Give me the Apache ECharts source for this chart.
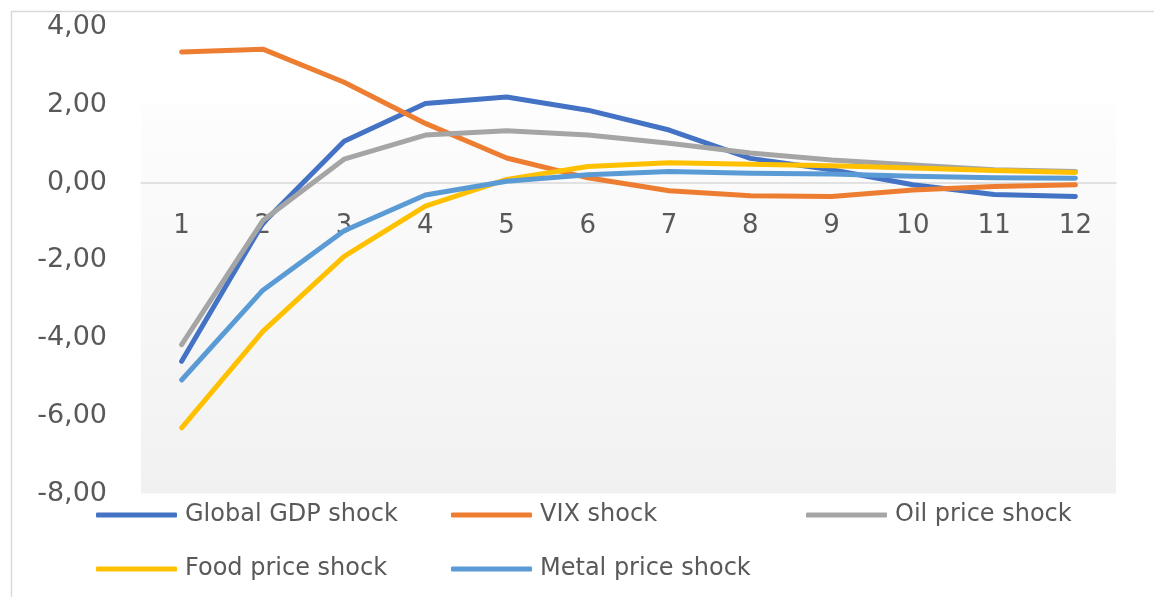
<!DOCTYPE html>
<html>
<head>
<meta charset="utf-8">
<script src="https://cdn.jsdelivr.net/npm/echarts@6/dist/echarts.min.js"></script>
<style>
  html, body { margin: 0; padding: 0; background: #ffffff; }
  #chart { width: 1154px; height: 597px; }
</style>
</head>
<body>
<div id="chart"></div>
<script>
// Impulse responses over a 12-period horizon
const periods = ['1', '2', '3', '4', '5', '6', '7', '8', '9', '10', '11', '12'];

const globalGdpShock = [-4.60, -1.05, 1.06, 2.03, 2.20, 1.86, 1.35, 0.62, 0.33, -0.06, -0.31, -0.36];
const vixShock       = [3.36, 3.43, 2.58, 1.52, 0.63, 0.12, -0.21, -0.34, -0.36, -0.19, -0.10, -0.06];
const oilPriceShock  = [-4.17, -0.98, 0.60, 1.22, 1.33, 1.22, 1.01, 0.76, 0.58, 0.45, 0.33, 0.28];
const foodPriceShock = [-6.31, -3.83, -1.90, -0.61, 0.08, 0.41, 0.51, 0.47, 0.43, 0.37, 0.31, 0.26];
const metalPriceShock = [-5.08, -2.77, -1.24, -0.32, 0.03, 0.20, 0.28, 0.24, 0.22, 0.16, 0.12, 0.11];

const seriesNames = ['Global GDP shock', 'VIX shock', 'Oil price shock', 'Food price shock', 'Metal price shock'];
const seriesValues = [globalGdpShock, vixShock, oilPriceShock, foodPriceShock, metalPriceShock];
const seriesColors = ['#4472C4', '#ED7D31', '#A5A5A5', '#FFC000', '#5B9BD5'];

const yTicks = { min: -8, max: 4, interval: 2 };

const FONT = 'DejaVu Sans';
const TEXT_COLOR = '#595959';

// plot area geometry (px)
const GRID = { left: 141, right: 38, top: 27, bottom: 103.5 };
const plotHeight = 597 - GRID.top - GRID.bottom;
// category axis sits on the zero line: shift it up from the bottom edge
const zeroOffset = -plotHeight * (0 - yTicks.min) / (yTicks.max - yTicks.min);
// shaded band starts at the 2,00 level
const shadeStart = (yTicks.max - 2) / (yTicks.max - yTicks.min);

const chart = echarts.init(document.getElementById('chart'), null, { renderer: 'canvas' });

chart.setOption({
  animation: false,
  backgroundColor: '#ffffff',
  graphic: [{
    type: 'rect',
    left: 9, top: 9,
    shape: { width: 1160, height: 600 },
    style: { fill: 'none', stroke: '#d9d9d9', lineWidth: 1.5 },
    silent: true,
    z: -10
  }],
  grid: {
    left: GRID.left, right: GRID.right, top: GRID.top, bottom: GRID.bottom,
    show: true,
    borderWidth: 0,
    backgroundColor: {
      type: 'linear', x: 0, y: 0, x2: 0, y2: 1,
      colorStops: [
        { offset: 0, color: '#ffffff' },
        { offset: shadeStart - 0.001, color: '#ffffff' },
        { offset: shadeStart, color: '#fdfdfd' },
        { offset: 1, color: '#f1f1f1' }
      ]
    }
  },
  legend: {
    data: seriesNames,
    left: 96, top: 488, width: 1070,
    orient: 'horizontal',
    icon: 'roundRect',
    itemWidth: 81, itemHeight: 5,
    itemGap: 0,
    padding: 0,
    textStyle: {
      fontFamily: FONT, fontSize: 24, color: TEXT_COLOR,
      width: 266, lineHeight: 54, padding: [0, 0, 0, 3]
    }
  },
  xAxis: {
    type: 'category',
    data: periods,
    boundaryGap: true,
    position: 'bottom',
    offset: zeroOffset,
    axisLine: { show: true, onZero: false, lineStyle: { color: '#d9d9d9', width: 1.5 } },
    axisTick: { show: false },
    axisLabel: { fontFamily: FONT, fontSize: 26, color: TEXT_COLOR, margin: 31 },
    splitLine: { show: false }
  },
  yAxis: {
    type: 'value',
    min: yTicks.min, max: yTicks.max, interval: yTicks.interval,
    axisLine: { show: false },
    axisTick: { show: false },
    splitLine: { show: false },
    axisLabel: {
      fontFamily: FONT, fontSize: 27, color: TEXT_COLOR, margin: 34,
      formatter: v => v.toFixed(2).replace('.', ',')
    }
  },
  series: seriesNames.map((name, i) => ({
    name,
    type: 'line',
    data: seriesValues[i],
    showSymbol: false,
    symbol: 'none',
    smooth: false,
    color: seriesColors[i],
    lineStyle: { color: seriesColors[i], width: 5, cap: 'round', join: 'round' },
    itemStyle: { color: seriesColors[i] },
    emphasis: { disabled: true }
  }))
});
</script>
</body>
</html>
